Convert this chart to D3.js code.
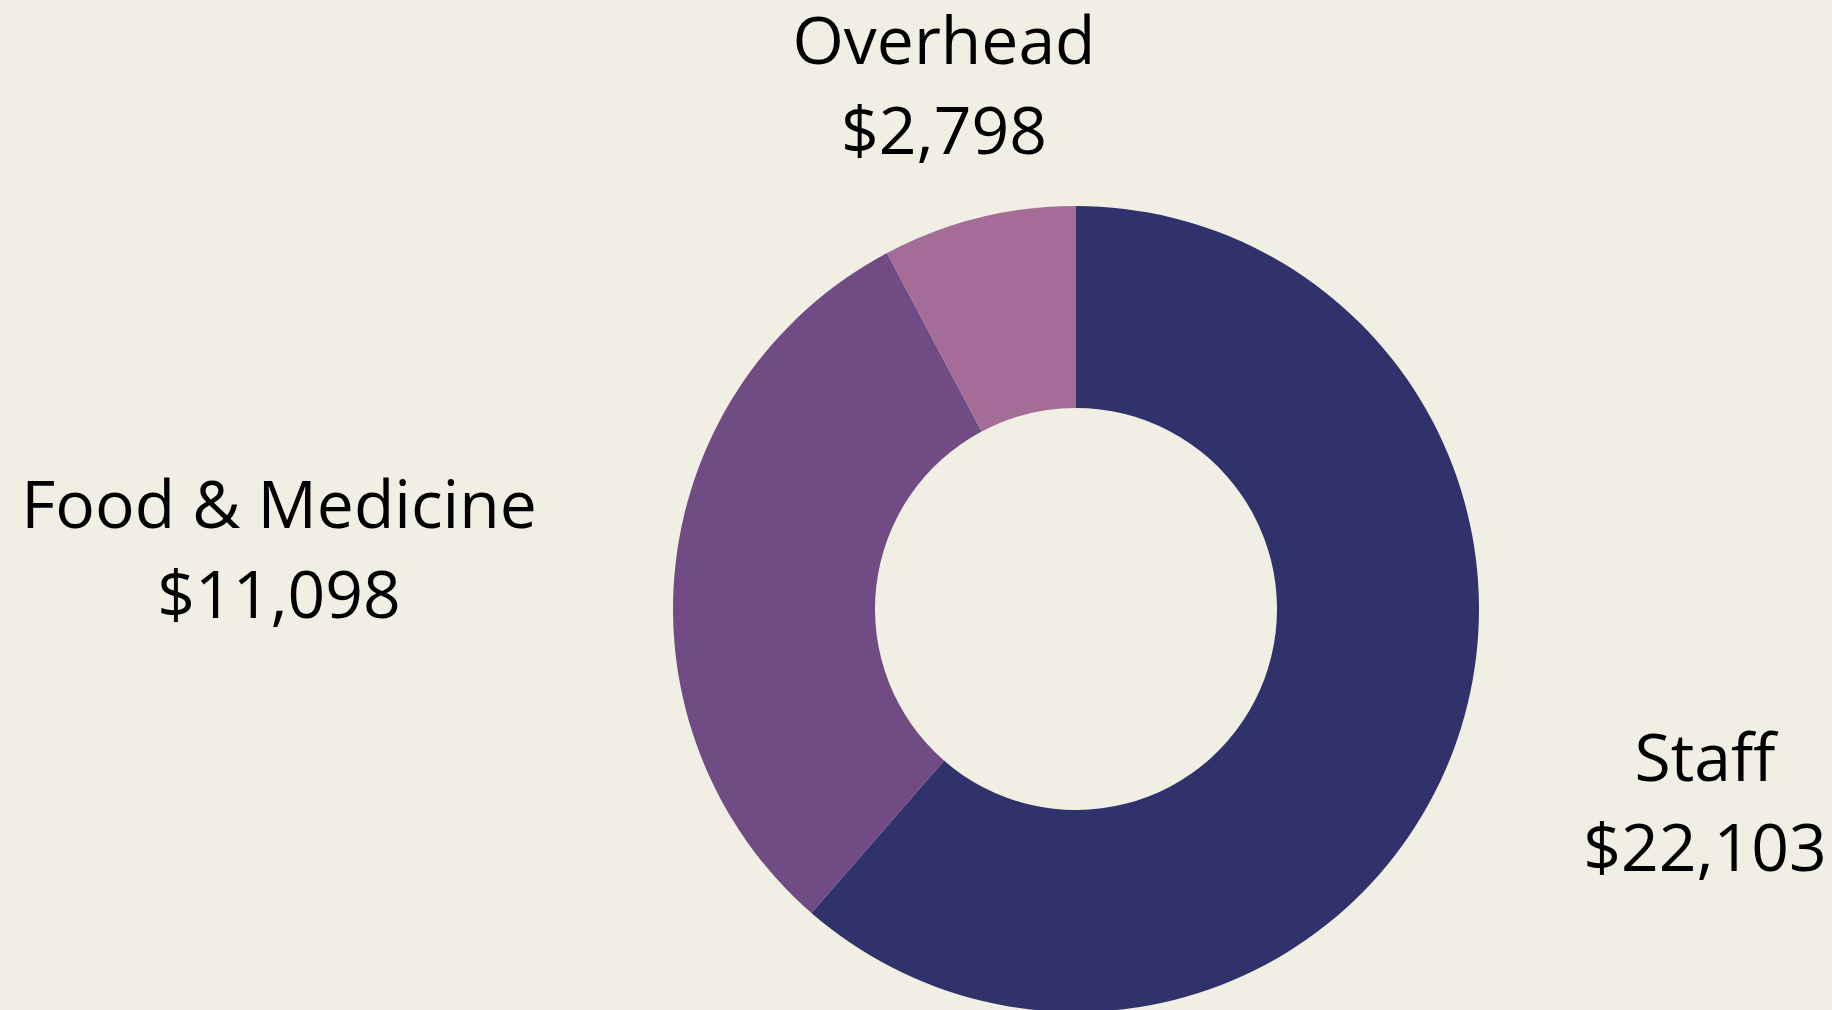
<!DOCTYPE html>
<html>
<head>
<meta charset="utf-8">
<script src="https://cdn.jsdelivr.net/npm/d3@7"></script>
<style>
  html, body { margin: 0; padding: 0; background: #f1efe3; overflow: hidden; }
  svg { display: block; }
  text { font-family: "Open Sans", "Noto Sans", sans-serif; }
</style>
</head>
<body>
<svg id="chart" width="1832" height="1010"></svg>
<script>
// Data
const categories = ["Staff", "Food & Medicine", "Overhead"];
const amounts = [22103, 11098, 2798];
const colors = ["#30336b", "#714c84", "#a46c96"];

// Layout
const W = 1832, H = 1010;
const cx = 1076, cy = 609;
const outerR = 403, innerR = 201;
const fontSize = 66, lineGap = 90;
// label anchor (center x, first baseline) relative to donut centre
const labelOffsets = {
  "Staff": [629, 172],
  "Food & Medicine": [-797, -81],
  "Overhead": [-132, -545]
};

const svg = d3.select("#chart");
svg.append("rect").attr("width", W).attr("height", H).attr("fill", "#f1efe3");

const data = categories.map((c, i) => ({ name: c, value: amounts[i], color: colors[i] }));

const pie = d3.pie().value(d => d.value).sort(null).startAngle(0).endAngle(2 * Math.PI);
const arc = d3.arc().innerRadius(innerR).outerRadius(outerR);

const g = svg.append("g").attr("transform", `translate(${cx},${cy})`);
const arcs = pie(data);

g.selectAll("path.slice")
  .data(arcs)
  .join("path")
  .attr("class", "slice")
  .attr("d", arc)
  .attr("fill", d => d.data.color);

const fmt = d3.format("$,");

const labels = g.selectAll("text.label")
  .data(arcs)
  .join("text")
  .attr("class", "label")
  .attr("text-anchor", "middle")
  .attr("font-size", fontSize)
  .attr("fill", "#000")
  .attr("x", d => labelOffsets[d.data.name][0])
  .attr("y", d => labelOffsets[d.data.name][1]);

labels.append("tspan")
  .attr("x", d => labelOffsets[d.data.name][0])
  .text(d => d.data.name);
labels.append("tspan")
  .attr("x", d => labelOffsets[d.data.name][0])
  .attr("dy", lineGap)
  .text(d => fmt(d.data.value));
</script>
</body>
</html>
